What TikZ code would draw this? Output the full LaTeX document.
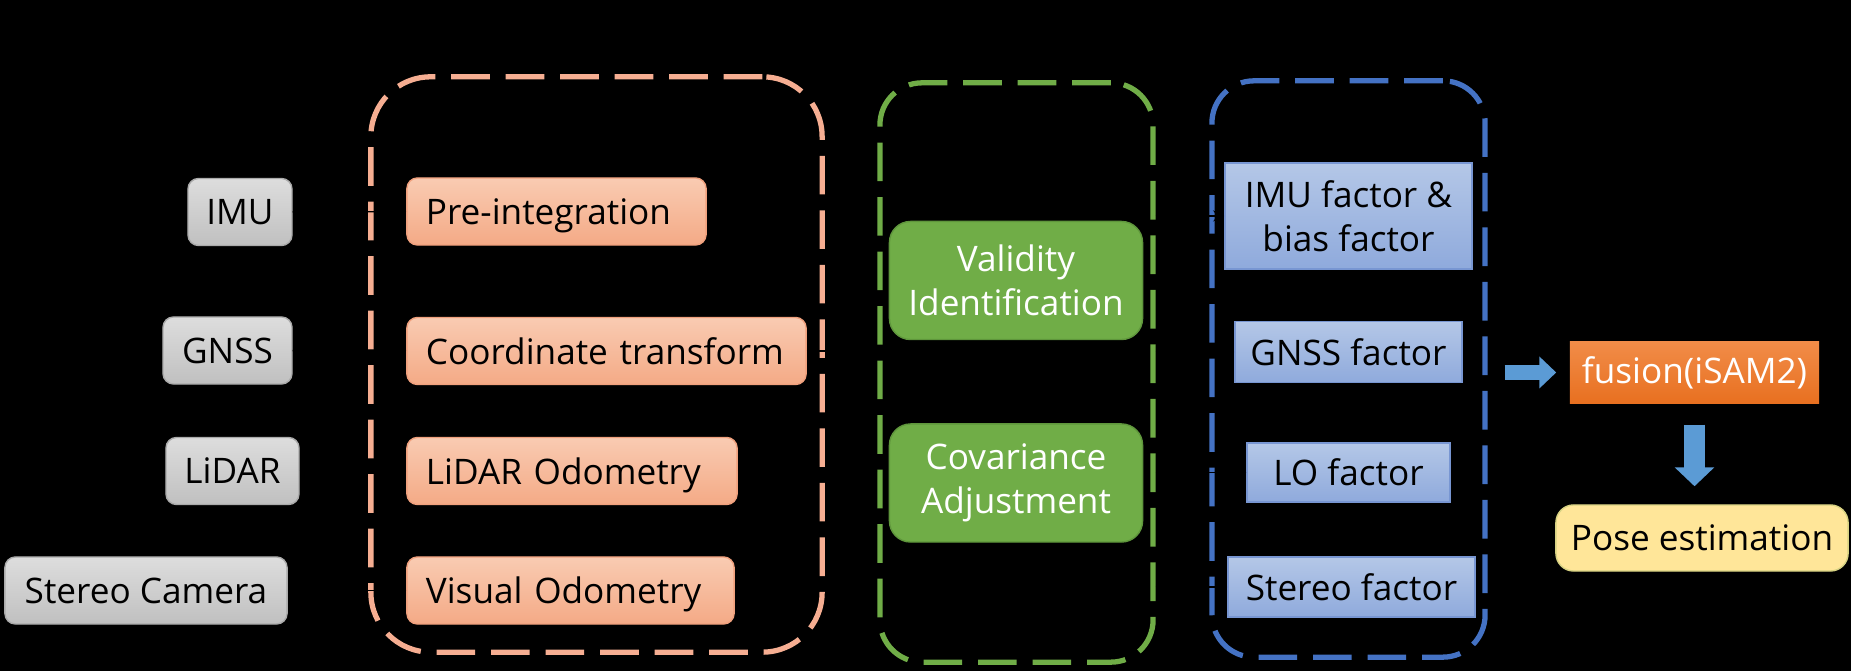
\documentclass[tikz,border=0pt]{standalone}
\usepackage{fontspec}
\setmainfont{Open Sans}
\usetikzlibrary{shapes.misc, arrows, arrows.meta, calc}

\definecolor{sensorTop}{RGB}{221,221,221}
\definecolor{sensorBot}{RGB}{192,192,192}
\definecolor{sensorLine}{RGB}{170,170,170}
\definecolor{preTop}{RGB}{249,203,178}
\definecolor{preBot}{RGB}{244,170,134}
\definecolor{preLine}{RGB}{240,160,125}
\definecolor{preDash}{RGB}{246,174,146}
\definecolor{checkFill}{RGB}{112,173,71}
\definecolor{checkLine}{RGB}{95,150,60}
\definecolor{factTop}{RGB}{180,199,231}
\definecolor{factBot}{RGB}{143,170,220}
\definecolor{factLine}{RGB}{120,150,210}
\definecolor{factDash}{RGB}{68,114,196}
\definecolor{fuseTop}{RGB}{241,140,72}
\definecolor{fuseBot}{RGB}{232,112,32}
\definecolor{poseFill}{RGB}{255,230,153}
\definecolor{poseLine}{RGB}{215,210,130}
\definecolor{bigBlue}{RGB}{91,155,213}

\begin{document}
\begin{tikzpicture}[x=0.01cm, y=-0.01cm, every node/.style={font=\fontsize{10pt}{12.5pt}\selectfont}]
%
% Skiss:
% IMU / GNSS / LiDAR / Stereo Camera -> preprocessing -> check -> factors => fusion(iSAM2) => Pose estimation
%
\tikzstyle{sensor} = [rectangle, rounded corners=3pt, draw=sensorLine, top color=sensorTop, bottom color=sensorBot, minimum height=0.67cm, text centered, inner sep=0pt]
\tikzstyle{prep} = [rectangle, rounded corners=3pt, draw=preLine, top color=preTop, bottom color=preBot, minimum height=0.67cm, align=left, inner xsep=0.19cm, inner ysep=0pt, text depth=0pt]
\tikzstyle{check} = [rectangle, rounded corners=6pt, draw=checkLine, fill=checkFill, text=white, minimum width=2.53cm, minimum height=1.18cm, align=center, inner sep=0pt]
\tikzstyle{factor} = [rectangle, draw=factLine, top color=factTop, bottom color=factBot, align=center, inner sep=0pt]
\tikzstyle{group} = [rectangle, line width=1.5pt, dash pattern=on 11pt off 4.5pt, minimum width=2.73cm]
\tikzstyle{arrow} = [thin,->,>=stealth,black]
\tikzstyle{bigarrow} = [draw=bigBlue]

\fill[black] (0,0) rectangle (1851,671);
\useasboundingbox (0,0) rectangle (1851,671);

% Groups
\node (grpPrep) [group, draw=preDash, rounded corners=17pt, minimum width=4.51cm, minimum height=5.75cm] at (596.5,364.5) {};
\node (grpCheck) [group, draw=checkFill, rounded corners=12pt, minimum height=5.79cm] at (1016.5,372.5) {};
\node (grpFactor) [group, draw=factDash, rounded corners=12pt, minimum height=5.76cm] at (1348.5,369) {};

% Nodes
\node (imu) [sensor, minimum width=1.04cm] at (240,212) {IMU};
\node (gnss) [sensor, minimum width=1.29cm] at (227.5,350.5) {GNSS};
\node (lidar) [sensor, minimum width=1.33cm] at (232.5,471) {LiDAR};
\node (stereo) [sensor, minimum width=2.82cm] at (146,590.5) {Stereo Camera};

\node (preint) [prep, text width=2.61cm] at (556.5,211.5) {Pre-integration};
\node (coord) [prep, text width=3.61cm] at (606.5,351) {Coordinate transform};
\node (lo) [prep, text width=2.92cm] at (572,471) {LiDAR Odometry};
\node (vo) [prep, text width=2.89cm] at (570.5,590.5) {Visual Odometry};

\node (valid) [check] at (1016,280.5) {Validity\\Identification};
\node (cov) [check] at (1016,483) {Covariance\\Adjustment};

\node (imuF) [factor, minimum width=2.47cm, minimum height=1.06cm] at (1348.5,216) {IMU factor \&\\bias factor};
\node (gnssF) [factor, minimum width=2.27cm, minimum height=0.61cm] at (1348.5,352) {GNSS factor};
\node (loF) [factor, minimum width=2.03cm, minimum height=0.59cm] at (1348.5,472.5) {LO factor};
\node (stereoF) [factor, minimum width=2.47cm, minimum height=0.60cm] at (1351.5,587) {Stereo factor};

\node (fusion) [rectangle, top color=fuseTop, bottom color=fuseBot, text=white, minimum width=2.49cm, minimum height=0.61cm, inner sep=0pt] at (1694.5,372.5) {fusion(iSAM2)};
\node (pose) [rectangle, rounded corners=5pt, draw=poseLine, fill=poseFill, minimum width=2.92cm, minimum height=0.66cm, inner sep=0pt] at (1702,538) {Pose estimation};

% Arrows
\draw [arrow] (imu) -- (preint);
\draw [arrow] (gnss) -- (coord);
\draw [arrow] (lidar) -- (lo);
\draw [arrow] (stereo) -- (vo);
\draw [arrow] (coord.east) -- (coord.east -| grpCheck.west);
\draw [arrow] (lo.east) -- (lo.east -| grpCheck.west);
\draw [arrow] (imuF.west -| grpCheck.east) -- (imuF.west);
\draw [arrow] (gnssF.west -| grpCheck.east) -- (gnssF.west);
\draw [arrow] (loF.west -| grpCheck.east) -- (loF.west);
\draw [arrow] (stereoF.west -| grpCheck.east) -- (stereoF.west);
\draw [bigarrow, line width=4.3pt, -{Triangle[width=8.8pt,length=4.8pt]}, shorten <=0.17cm, shorten >=0.13cm] (grpFactor.east |- fusion.west) -- (fusion.west);
\draw [bigarrow, line width=5.7pt, -{Triangle[width=11pt,length=5.4pt]}, shorten <=0.21cm, shorten >=0.18cm] (fusion.south) -- (fusion.south |- pose.north);

\end{tikzpicture}
\end{document}
